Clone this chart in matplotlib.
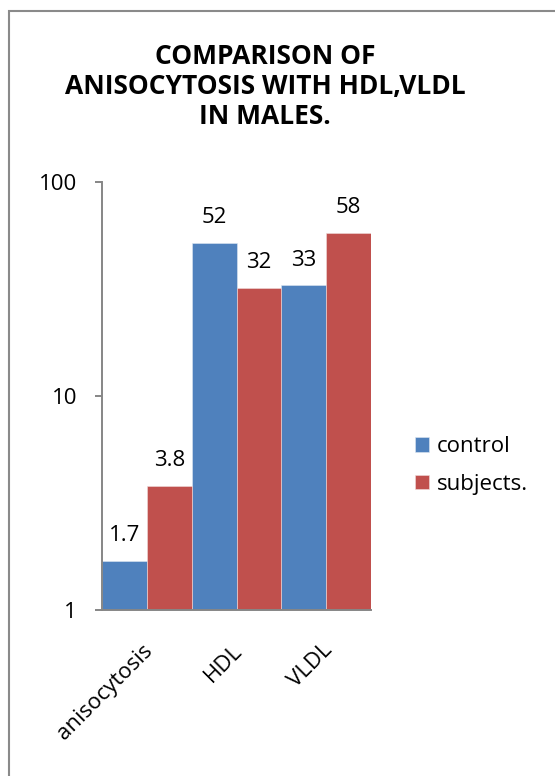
import matplotlib.pyplot as plt
import matplotlib.transforms as mtransforms
from matplotlib.patches import Rectangle
from matplotlib.ticker import FixedLocator, NullLocator, FixedFormatter
import numpy as np

plt.rcParams['font.family'] = ['Open Sans', 'DejaVu Sans']

# data
categories = ['anisocytosis', 'HDL', 'VLDL']
control = [1.7, 52, 33]
subjects = [3.8, 32, 58]
series_names = ['control', 'subjects.']
y_ticks = [1, 10, 100]
y_tick_labels = ['1', '10', '100']

blue = '#4F81BD'
red = '#C0504D'
axis_gray = '#868686'

fig = plt.figure(figsize=(5.55, 7.76), dpi=100)
ax = fig.add_axes([0.1838, 0.2139, 0.6685 - 0.1838, 0.7655 - 0.2139])

x = np.arange(len(categories))
w = 0.5
b1 = ax.bar(x - w / 2, control, width=w, color=blue, edgecolor='#dfe7f2',
            linewidth=0.4, label=series_names[0])
b2 = ax.bar(x + w / 2, subjects, width=w, color=red, edgecolor='#f0dcdc',
            linewidth=0.4, label=series_names[1])

ax.set_yscale('log')
ax.set_ylim(1, 100)
ax.set_xlim(-0.5, len(categories) - 0.5)
ax.yaxis.set_major_locator(FixedLocator(y_ticks))
ax.yaxis.set_major_formatter(FixedFormatter(y_tick_labels))
ax.yaxis.set_minor_locator(NullLocator())

for s in ['top', 'right']:
    ax.spines[s].set_visible(False)
for s in ['left', 'bottom']:
    ax.spines[s].set_color(axis_gray)
    ax.spines[s].set_linewidth(1.4)

ax.tick_params(axis='y', length=5, width=1.4, color=axis_gray, pad=13,
               labelsize=16, labelcolor='black')
ax.set_xticks(x)
ax.set_xticklabels(categories, fontsize=16, rotation=45, ha='right',
                   va='center', rotation_mode='anchor')
ax.tick_params(axis='x', length=0, pad=27)
shift = mtransforms.ScaledTranslation(3 / 100, 0, fig.dpi_scale_trans)
for lab in ax.get_xticklabels():
    lab.set_transform(lab.get_transform() + shift)

# value labels above each bar
for bars, vals in [(b1, control), (b2, subjects)]:
    for rect, v in zip(bars, vals):
        ax.annotate(f'{v:g}', (rect.get_x() + rect.get_width() / 2, v),
                    xytext=(0, 14), textcoords='offset points',
                    ha='center', va='baseline', fontsize=16)

fig.text(0.478, 1 - 86.5 / 776, 'COMPARISON OF\nANISOCYTOSIS WITH HDL,VLDL\nIN MALES.',
         ha='center', va='center', fontsize=19, fontweight='bold',
         linespacing=1.12)

ax.legend(loc='center left', bbox_to_anchor=(415 / 555, 1 - 465.5 / 776),
          bbox_transform=fig.transFigure, frameon=False, fontsize=16,
          handlelength=0.63, handleheight=0.63, handletextpad=0.36,
          labelspacing=0.75, borderpad=0, borderaxespad=0)

# chart border
fig.patches.append(Rectangle((8.5 / 555, -0.1), 1.2, 1.1 - 11 / 776,
                             transform=fig.transFigure, fill=False,
                             edgecolor='#8a8a8a', linewidth=1.5))

fig.savefig('out.png', dpi=100)
